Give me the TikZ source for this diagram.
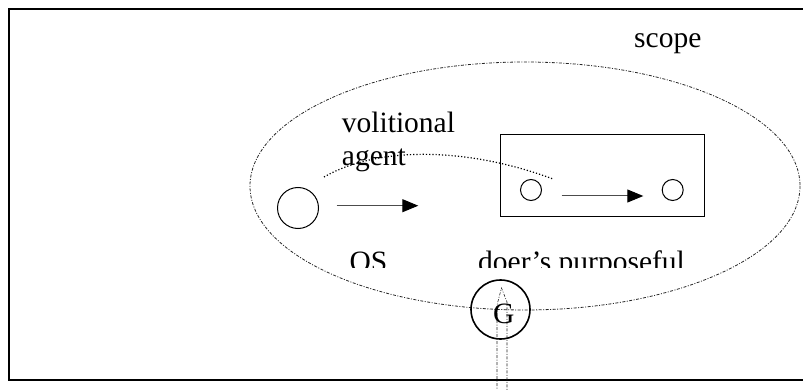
\documentclass[tikz,border=0pt]{standalone}
\usepackage{fontspec}
\setmainfont{Liberation Serif}
\usetikzlibrary{arrows.meta}
\begin{document}
\begin{tikzpicture}[x=1pt,y=-1pt,
  lbl/.style={inner sep=0pt,anchor=base west,font=\fontsize{29.5}{33}\selectfont},
  dashdot/.style={draw=black!85,line width=0.8pt,dash pattern=on 3pt off 1.5pt on 1pt off 1.5pt},
  ring/.style={circle,draw,line width=1pt,inner sep=0pt},
  flow/.style={draw=black!70,line width=1pt,-{Triangle[length=16pt,width=13pt,color=black]}}
]
\clip (0,0) rectangle (803,390);
% outer frame
\draw[line width=1.2pt] (9,9) rectangle (830,380);
% scope ellipse
\draw[dashdot] (525,186) ellipse [x radius=275, y radius=124];
% inner box with its two states
\node[draw,line width=1pt,minimum width=204pt,minimum height=82pt,inner sep=0pt] (box) at (602.5,175.5) {};
\node[ring,minimum size=21pt] (s1) at (531,190) {};
\node[ring,minimum size=21pt] (s2) at (672.7,190) {};
\coordinate (a2s) at (561.7,196);
\coordinate (a2e) at (643.3,196);
\draw[flow] (a2s) -- (a2e);
% agent circle and its arrow
\node[ring,minimum size=41pt] (os) at (298,208) {};
\coordinate (a1s) at (336.7,205.7);
\coordinate (a1e) at (418.3,205.7);
\draw[flow] (a1s) -- (a1e);
% dotted link from agent into the box
\coordinate (l0) at (324,177);
\coordinate (l1) at (553,179);
\draw[dotted,line width=1.2pt] (l0) .. controls (380,145) and (470,148) .. (l1);
% goal marker
\node[ring,line width=1.6pt,minimum size=59pt] (g) at (500.5,309.5) {};
\draw[dashdot,line width=0.6pt] (497,400) -- (497,305) -- (501.5,288) -- (507,302) -- (507,400);
\node[lbl] (gl) at (493,323.5) {G};
% labels
\node[lbl] (vol) at (341.7,133) {volitional};
\node[lbl] (agt) at (341.7,166) {agent};
\node[lbl] (scp) at (634,47.3) {scope};
\begin{scope}
\clip (0,0) rectangle (803,267);
\node[lbl] (osl) at (349.3,271.5) {OS};
\node[lbl] (doer) at (478,271.5) {doer’s purposeful};
\end{scope}
\end{tikzpicture}
\end{document}
